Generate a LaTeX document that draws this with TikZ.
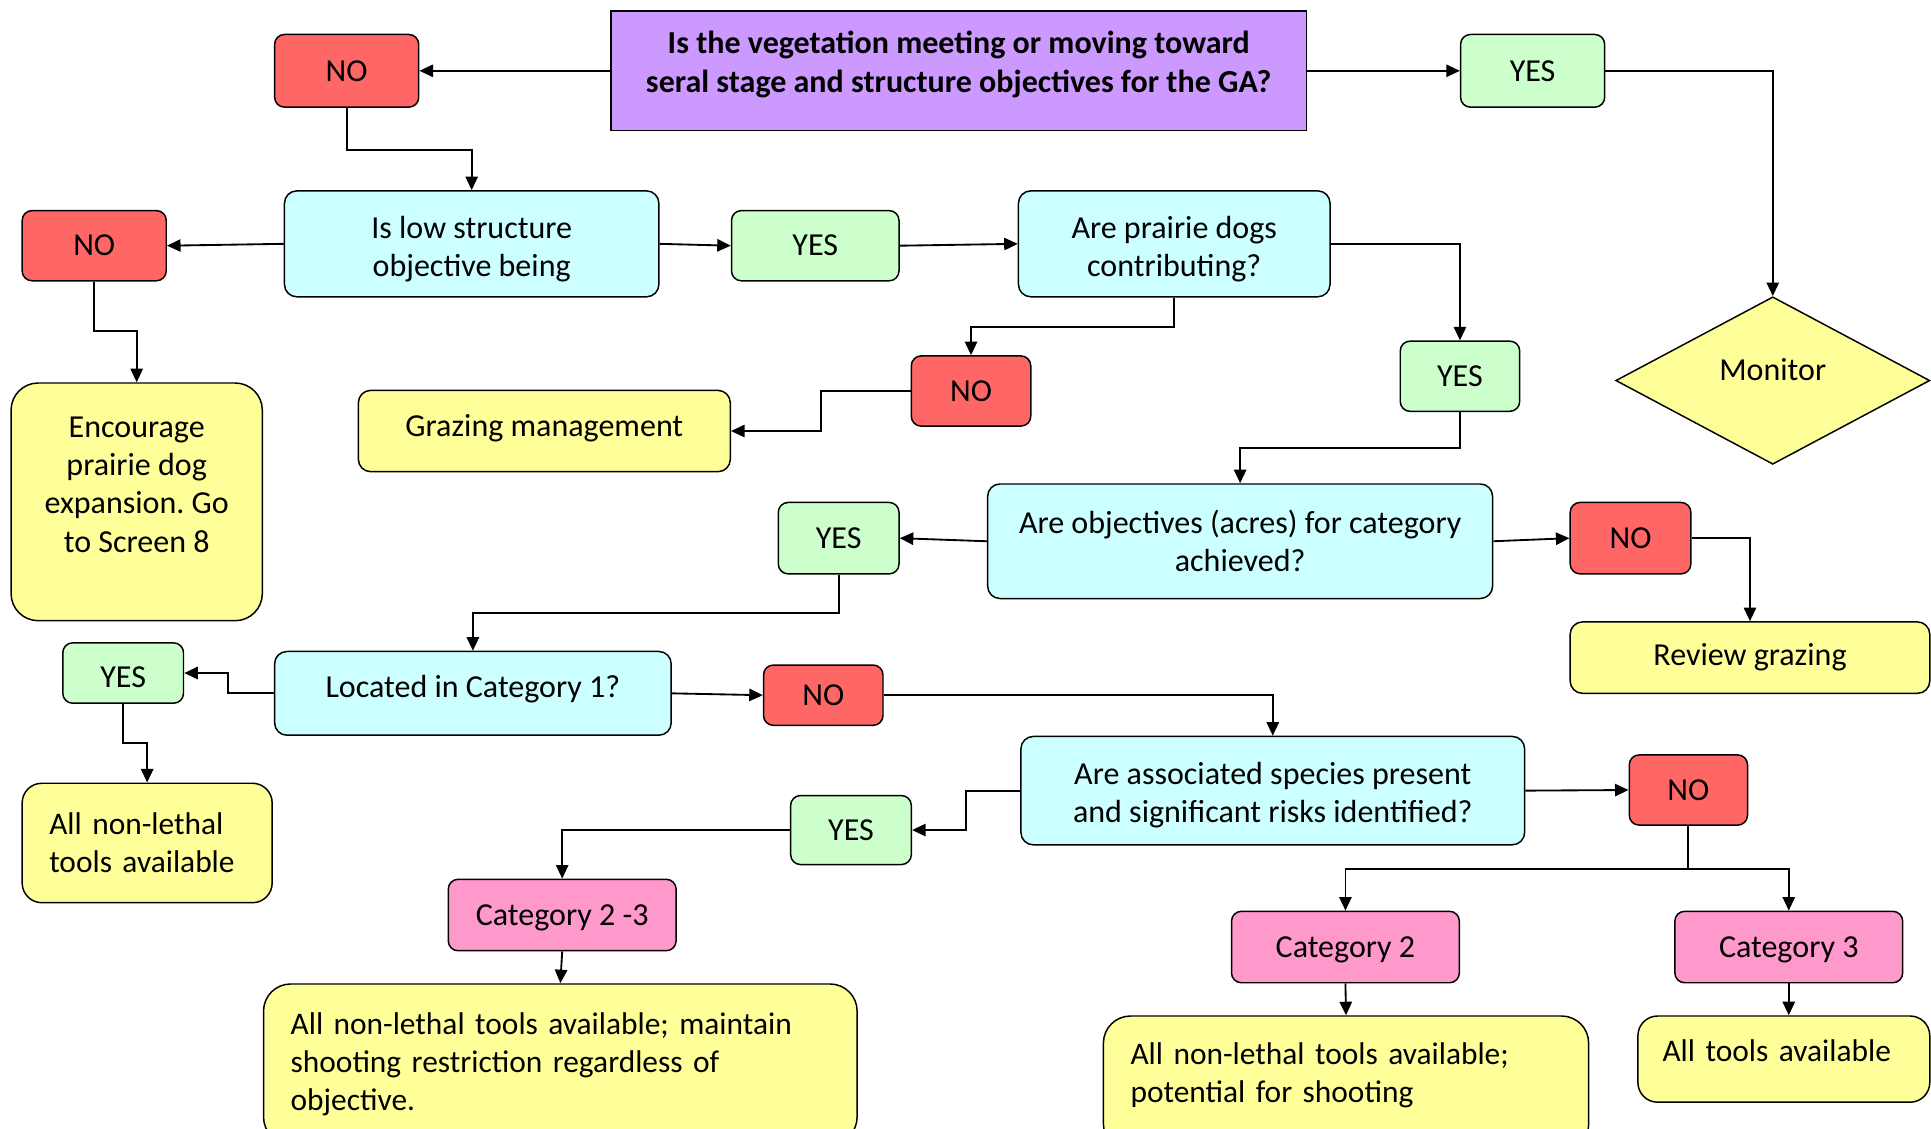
\documentclass[tikz,border=0pt]{standalone}
\usepackage{fontspec}
\setmainfont{Carlito}
\usetikzlibrary{shapes.geometric,arrows.meta,calc}
\definecolor{cpurple}{HTML}{CC99FF}
\definecolor{cred}{HTML}{FF6666}
\definecolor{cgreen}{HTML}{CCFFCC}
\definecolor{ccyan}{HTML}{CCFFFF}
\definecolor{cyellow}{HTML}{FFFF99}
\definecolor{cpink}{HTML}{FF99CC}
\newcommand\bx[7]{\node[#6, minimum width={(#4)-(#2)}, minimum height={(#5)-(#3)}] (#1) at ({((#2)+(#4))/2},{((#3)+(#5))/2}) {#7};}
\begin{document}
\frenchspacing
\begin{tikzpicture}[x=1pt,y=-1pt,
  base/.style={draw=black, line width=1.2pt, inner sep=0pt, align=center, font=\fontsize{26}{31}\selectfont\frenchspacing},
  qbox/.style={base, fill=ccyan, rounded corners=10pt},
  nobox/.style={base, fill=cred, rounded corners=8pt},
  yesbox/.style={base, fill=cgreen, rounded corners=8pt},
  yelbox/.style={base, fill=cyellow, rounded corners=10pt},
  bigyel/.style={base, fill=cyellow, rounded corners=22pt},
  leftyel/.style={bigyel, align=left, font=\fontsize{25.5}{31}\selectfont\frenchspacing},
  catbox/.style={base, fill=cpink, rounded corners=8pt, text height=22pt},
  topbox/.style={base, fill=cpurple, font=\fontsize{26}{32}\selectfont\bfseries},
  arr/.style={line width=1.5pt, -{Triangle[length=11pt,width=10pt]}},
  ln/.style={line width=1.5pt},
]
\useasboundingbox (0,0) rectangle (1568,916);
\clip (0,0) rectangle (1568,916);

% nodes
\bx{T}{496}{9}{1061}{106}{topbox, text depth=15pt}{Is the vegetation meeting or moving toward\\seral stage and structure objectives for the GA?}
\bx{N1}{223}{28}{340}{87}{nobox}{NO}
\bx{Y1}{1186}{28}{1303}{87}{yesbox}{YES}
\node[diamond, draw=black, line width=1.2pt, fill=cyellow, inner sep=0pt, aspect=1.875,
      minimum width=255, minimum height=136, font=\fontsize{26}{31}\selectfont, text depth=18pt]
      (M) at (1439.5,309) {Monitor};

\bx{Q2}{231}{155}{535}{241}{qbox, text height=58pt}{Is low structure\\objective being}
\bx{N2}{18}{171}{135}{228}{nobox}{NO}
\bx{E}{9}{311}{213}{504}{bigyel, text depth=28pt}{Encourage\\prairie dog\\expansion. Go\\to Screen 8}
\bx{Y2}{594}{171}{730}{228}{yesbox}{YES}
\bx{Q3}{827}{155}{1080}{241}{qbox, text height=58pt}{Are prairie dogs\\contributing?}
\bx{N3}{740}{289}{837}{346}{nobox}{NO}
\bx{G}{291}{317}{593}{383}{yelbox, text depth=9pt}{Grazing management}
\bx{Y3}{1137}{277}{1234}{334}{yesbox}{YES}

\bx{Q4}{802}{393}{1212}{486}{qbox}{Are objectives (acres) for category\\achieved?}
\bx{Y4}{632}{408}{730}{466}{yesbox}{YES}
\bx{N4}{1275}{408}{1373}{466}{nobox}{NO}
\bx{R}{1275}{505}{1567}{563}{yelbox}{Review grazing}

\bx{L}{223}{529}{545}{597}{qbox, text depth=12pt}{Located in Category 1?}
\bx{Y5}{51}{522}{149}{571}{yesbox, text height=24pt}{YES}
\bx{A1}{18}{636}{221}{733}{leftyel, rounded corners=16pt, text width=159pt}{All non-lethal\\tools available}
\bx{N5}{620}{540}{717}{589}{nobox}{NO}

\bx{Q5}{829}{598}{1238}{686}{qbox, text height=56pt}{Are associated species present\\and significant risks identified?}
\bx{Y6}{642}{646}{740}{702}{yesbox}{YES}
\bx{C23}{364}{714}{549}{772}{catbox}{Category 2 -3}
\bx{B1}{214}{799}{696}{929}{leftyel, text width=438pt}{All non-lethal tools available; maintain\\shooting restriction regardless of\\objective.}
\bx{N6}{1323}{613}{1419}{670}{nobox}{NO}
\bx{C2}{1000}{740}{1185}{798}{catbox}{Category 2}
\bx{C3}{1360}{740}{1545}{798}{catbox}{Category 3}
\bx{B2}{896}{825}{1290}{935}{leftyel, text width=350pt, text depth=49pt}{All non-lethal tools available;\\potential for shooting}
\bx{B3}{1330}{825}{1567}{895}{leftyel, rounded corners=16pt, text width=197pt, text depth=14pt}{All tools available}

% connectors
\draw[arr] (T.west) -- (N1.east);
\draw[arr] (T.east) -- (Y1.west);
\draw[arr] (Y1.east) -| (M.north);
\draw[arr] (N1.south) -- ++(0,34) -| (Q2.north);
\draw[arr] (Q2.west) -- (N2.east);
\draw[arr] (N2.south) -- ++(0,40) -| (E.north);
\draw[arr] (Q2.east) -- (Y2.west);
\draw[arr] (Y2.east) -- (Q3.west);
\draw[arr] (Q3.south) -- ++(0,24) -| (N3.north);
\draw[arr] (N3.west) -- ++(-73,0) |- (G.east);
\draw[arr] (Q3.east) -| (Y3.north);
\draw[arr] (Y3.south) -- ++(0,29) -| (Q4.north);
\draw[arr] (Q4.west) -- (Y4.east);
\draw[arr] (Q4.east) -- (N4.west);
\draw[arr] (N4.east) -| (R.north);
\draw[arr] (Y4.south) -- ++(0,31) -| (L.north);
\draw[arr] (L.west) -- ++(-37,0) |- (Y5.east);
\draw[arr] (Y5.south) -- ++(0,32) -| (A1.north);
\draw[arr] (L.east) -- (N5.west);
\draw[arr] (N5.east) -| (Q5.north);
\draw[arr] (Q5.west) -- ++(-44,0) |- (Y6.east);
\draw[arr] (Y6.west) -| (C23.north);
\draw[arr] (C23.south) -- (B1.north);
\draw[arr] (Q5.east) -- (N6.west);
\draw[ln] (N6.south) -- ++(0,35) coordinate (sp);
\draw[arr] (sp) -| (C2.north);
\draw[arr] (sp) -| (C3.north);
\draw[arr] (C2.south) -- (B2.north);
\draw[arr] (C3.south) -- (C3.south |- B3.north);
\end{tikzpicture}
\end{document}
